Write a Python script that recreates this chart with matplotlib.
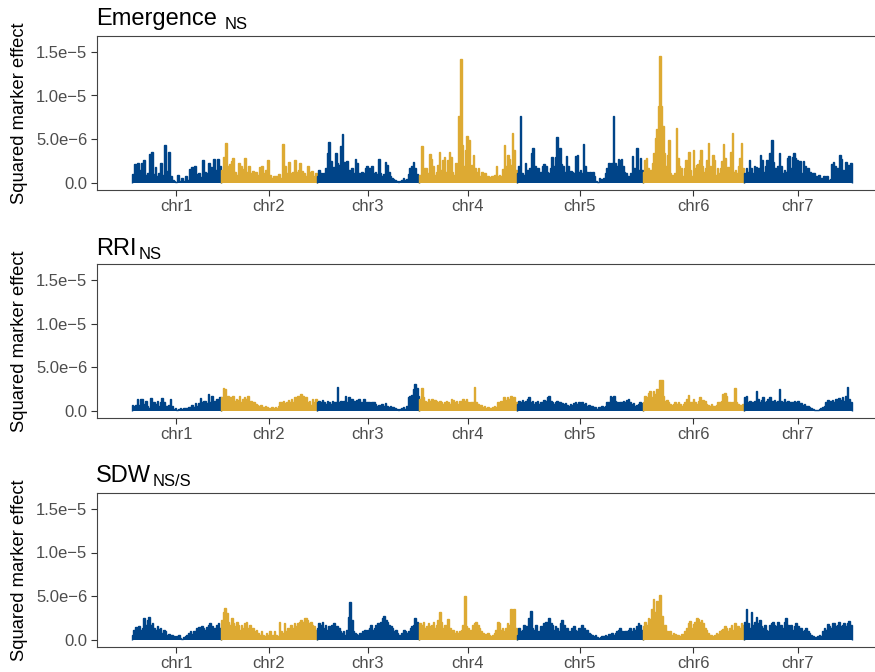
import numpy as np
import matplotlib
matplotlib.use("Agg")
import matplotlib.pyplot as plt

plt.rcParams["font.family"] = ["Liberation Sans", "DejaVu Sans"]

# ---- chromosome layout -------------------------------------------------
chromosomes = ["chr1", "chr2", "chr3", "chr4", "chr5", "chr6", "chr7"]
chrom_span = [89.3, 95.7, 102.6, 97.4, 126.0, 101.3, 107.7]
chrom_colors = ["#004488", "#DDAA33", "#004488", "#DDAA33",
                "#004488", "#DDAA33", "#004488"]

# ---- squared marker effects (units of 1e-6), ordered along each chromosome
emergence_chr1 = [1.0, 2.2, 1.2, 2.3, 1.5, 2.3, 2.6, 0.9, 1.1, 3.3, 3.5, 1.0, 1.8, 0.8, 1.2, 2.3,
                  0.9, 4.3, 1.4, 3.6, 0.8, 0.3, 0.2, 0.1, 0.9, 0.2, 0.6, 0.2, 0.8, 0.3, 1.6, 1.8,
                  1.2, 1.9, 1.0, 1.1, 0.7, 2.6, 1.3, 1.1, 2.3, 1.8, 1.6, 2.8, 1.5, 2.7, 2.0]
emergence_chr2 = [1.5, 3.0, 4.6, 1.9, 2.2, 2.5, 2.9, 1.3, 0.9, 2.3, 1.9, 1.6, 2.9, 1.3, 1.9, 1.1,
                  1.4, 0.9, 1.3, 0.9, 1.8, 2.0, 1.1, 1.5, 2.6, 0.9, 0.6, 0.8, 0.8, 0.2, 1.0, 0.6,
                  4.5, 1.9, 1.2, 2.4, 1.1, 1.3, 2.6, 1.3, 1.5, 2.3, 1.4, 1.1, 0.8, 1.9, 1.3, 1.4,
                  0.8, 1.1]
emergence_chr3 = [0.8, 1.5, 1.2, 1.0, 1.1, 1.7, 3.4, 4.7, 2.5, 1.3, 1.8, 3.4, 2.3, 2.1, 4.2, 5.6,
                  2.4, 1.5, 2.5, 1.5, 1.3, 1.7, 1.1, 2.8, 2.3, 1.1, 0.8, 1.3, 1.2, 1.7, 2.0, 1.7,
                  1.5, 2.0, 1.1, 1.3, 1.0, 2.8, 1.1, 0.8, 1.0, 2.4, 2.1, 1.3, 0.8, 0.6, 0.5, 0.3,
                  0.2, 0.1, 0.2, 0.3, 0.6, 0.3, 0.5, 1.0, 1.7, 2.0, 2.4, 1.7, 1.0, 0.8]
emergence_chr4 = [0.9, 4.2, 1.3, 1.7, 1.7, 1.1, 3.3, 2.7, 1.9, 0.9, 1.3, 2.1, 3.5, 1.5, 2.6, 3.0,
                  1.3, 2.6, 3.5, 3.0, 1.3, 0.9, 2.3, 1.3, 7.7, 14.2, 4.4, 2.0, 3.8, 5.4, 4.9, 1.9,
                  2.1, 3.2, 1.7, 1.3, 1.7, 0.8, 1.3, 0.9, 1.1, 0.4, 0.8, 0.7, 0.8, 0.8, 0.9, 1.9,
                  0.8, 0.9, 0.8, 1.6, 4.4, 1.9, 3.2, 2.8, 2.1, 5.7, 3.8, 1.5]
emergence_chr5 = [1.2, 2.0, 7.7, 1.1, 0.9, 2.3, 1.5, 1.1, 1.7, 3.4, 4.0, 1.9, 1.3, 1.7, 1.0, 1.3,
                  1.9, 2.2, 1.9, 1.3, 1.2, 1.7, 3.0, 1.9, 3.0, 5.3, 2.5, 4.0, 2.2, 1.9, 1.3, 3.1,
                  1.9, 0.9, 1.4, 1.3, 1.1, 3.1, 3.2, 1.3, 1.5, 1.1, 4.5, 1.9, 1.3, 1.1, 1.3, 0.9,
                  1.3, 0.8, 0.2, 0.1, 0.6, 0.5, 0.4, 0.6, 1.2, 1.7, 2.3, 1.7, 2.3, 7.7, 2.3, 1.9,
                  2.7, 2.6, 2.7, 1.9, 1.3, 1.1, 0.8, 0.6, 1.1, 3.1, 1.7, 1.3, 4.0, 1.5, 2.85, 1.5]
emergence_chr6 = [1.3, 2.6, 2.85, 1.7, 1.1, 1.5, 2.3, 3.4, 5.2, 6.2, 8.8, 14.5, 8.8, 6.5, 3.4, 1.9,
                  3.2, 4.9, 1.1, 0.95, 0.4, 1.1, 6.3, 2.85, 1.9, 1.7, 0.8, 1.7, 2.6, 1.9, 3.5, 1.5,
                  0.8, 3.8, 1.7, 2.1, 2.2, 2.6, 3.8, 1.9, 1.3, 1.7, 2.6, 4.6, 1.9, 1.3, 3.2, 2.6,
                  0.95, 1.7, 1.2, 1.7, 2.5, 4.5, 2.85, 1.7, 1.8, 1.3, 3.6, 5.7, 1.3, 1.5, 1.2, 1.9,
                  2.85, 4.6, 1.7]
emergence_chr7 = [1.1, 1.7, 1.3, 2.6, 1.7, 1.2, 1.9, 1.8, 1.45, 1.7, 3.25, 2.6, 1.3, 1.9, 2.6, 2.3,
                  3.4, 4.9, 2.4, 1.7, 1.3, 2.0, 3.4, 1.9, 1.1, 1.5, 1.3, 2.85, 3.1, 1.7, 3.0, 3.4,
                  2.85, 2.6, 1.7, 2.5, 1.2, 2.5, 1.9, 1.45, 1.7, 1.3, 0.8, 1.1, 1.2, 0.8, 0.7, 0.95,
                  0.6, 0.4, 0.85, 0.6, 0.85, 0.4, 0.5, 2.2, 2.4, 1.9, 1.3, 1.7, 3.25, 2.7, 1.5, 1.3,
                  2.4, 2.1, 1.5, 2.3]

rri_chr1 = [0.7, 0.6, 0.7, 1.4, 0.7, 1.4, 1.4, 0.8, 1.2, 0.6, 0.4, 1.5, 0.6, 1.0, 0.8, 1.2,
            0.6, 1.0, 1.5, 1.0, 0.6, 0.6, 0.7, 1.4, 0.6, 0.2, 0.3, 0.15, 0.2, 0.3, 0.2, 0.3,
            0.4, 0.4, 0.5, 0.45, 0.7, 0.5, 0.9, 0.6, 0.9, 1.5, 1.0, 1.2, 1.1, 0.9, 1.9, 1.0,
            1.7, 0.8, 1.2, 1.4, 0.8, 1.6]
rri_chr2 = [1.55, 2.6, 2.5, 1.36, 1.74, 1.55, 1.36, 1.67, 1.17, 1.36, 1.28, 1.74, 0.98, 1.36,
            1.55, 1.36, 1.74, 1.06, 1.17, 0.98, 0.98, 0.79, 0.68, 0.6, 0.68, 0.42, 0.42, 0.6,
            0.42, 0.3, 0.23, 0.42, 0.3, 0.42, 0.3, 0.6, 0.98, 0.98, 1.17, 0.9, 1.06, 1.28, 0.98,
            1.36, 1.06, 1.55, 1.36, 1.74, 1.36, 1.93, 1.74, 1.36, 1.55, 1.06, 1.17, 0.68, 1.36,
            1.06, 1.36]
rri_chr3 = [0.98, 1.17, 1.06, 1.28, 0.98, 0.79, 1.17, 0.98, 0.79, 1.17, 0.98, 0.98, 2.7, 0.98,
            1.17, 1.06, 1.17, 1.74, 0.98, 1.55, 1.28, 1.36, 1.17, 0.98, 1.28, 1.36, 0.98, 1.06,
            1.36, 0.79, 1.06, 0.98, 0.79, 0.98, 0.98, 0.79, 0.6, 0.68, 0.6, 0.79, 0.6, 0.9, 0.6,
            0.42, 0.53, 0.42, 0.42, 0.3, 0.23, 0.15, 0.23, 0.3, 0.42, 0.23, 0.6, 1.55, 1.74, 1.8,
            2.5, 3.1, 2.6, 1.74]
rri_chr4 = [1.36, 2.6, 1.55, 1.17, 0.98, 1.36, 1.17, 1.36, 0.98, 1.28, 1.17, 0.98, 1.17, 0.98,
            0.79, 0.98, 1.17, 0.98, 0.79, 1.36, 1.28, 0.98, 1.17, 0.79, 1.17, 0.98, 1.36, 1.17,
            1.36, 0.98, 0.79, 1.06, 0.98, 2.8, 0.98, 0.79, 0.6, 0.68, 0.42, 0.6, 0.3, 0.42, 0.23,
            0.3, 0.42, 0.6, 0.42, 0.98, 0.79, 1.17, 0.98, 1.55, 1.28, 1.55, 1.36, 1.67, 1.28,
            1.55, 0.98]
rri_chr5 = [0.79, 1.17, 0.98, 1.28, 0.98, 1.17, 1.36, 1.55, 0.98, 1.17, 0.79, 0.98, 1.17, 0.79,
            0.98, 1.06, 1.28, 1.17, 1.55, 1.74, 1.17, 0.98, 0.79, 0.98, 1.17, 0.98, 1.06, 0.9,
            0.79, 0.9, 0.68, 0.6, 0.79, 0.68, 0.9, 0.98, 0.79, 0.98, 0.79, 0.98, 0.79, 0.9, 0.6,
            0.68, 0.6, 0.53, 0.42, 0.42, 0.23, 0.42, 0.3, 0.53, 0.42, 0.6, 0.98, 1.06, 1.74, 1.55,
            1.74, 1.17, 0.98, 0.79, 1.06, 0.98, 1.17, 0.98, 1.3, 1.36, 0.98, 0.79, 0.9, 0.6, 0.68,
            0.79, 0.98, 0.9]
rri_chr6 = [0.98, 1.74, 1.55, 2.1, 2.3, 1.55, 2.3, 1.9, 2.5, 1.36, 3.5, 3.6, 1.74, 1.17, 1.28,
            0.98, 0.79, 0.68, 0.79, 0.98, 0.79, 0.98, 0.79, 0.6, 0.79, 0.98, 1.36, 1.8, 0.98, 1.06,
            1.36, 0.98, 0.79, 1.17, 1.55, 0.98, 1.28, 1.17, 0.79, 0.68, 0.6, 0.79, 0.53, 0.6, 0.68,
            0.98, 1.06, 1.17, 1.9, 2.1, 1.74, 0.98, 1.06, 0.68, 0.98, 2.6, 0.98, 0.79, 0.68, 0.6,
            0.79]
rri_chr7 = [1.55, 1.74, 0.98, 1.17, 1.06, 0.98, 1.17, 2.3, 1.36, 0.98, 1.28, 1.55, 0.98, 1.17,
            1.36, 1.55, 0.98, 1.17, 1.28, 0.98, 1.17, 2.5, 1.17, 0.98, 1.36, 0.98, 1.17, 0.9, 1.06,
            0.98, 1.17, 0.98, 1.17, 0.79, 0.9, 0.68, 0.79, 0.6, 0.53, 0.42, 0.3, 0.23, 0.15, 0.15,
            0.15, 0.23, 0.3, 0.42, 0.6, 0.98, 1.28, 0.98, 1.17, 1.28, 0.98, 1.36, 1.06, 1.44, 1.28,
            1.55, 1.17, 1.74, 2.7, 1.36, 0.98]

sdw_chr1 = [0.6, 1.17, 1.44, 0.98, 1.55, 1.17, 1.36, 2.49, 1.74, 2.3, 2.64, 1.74, 1.93, 1.36,
            1.17, 1.55, 1.29, 1.36, 0.79, 1.17, 0.98, 0.6, 0.68, 0.42, 0.53, 0.42, 0.3, 0.42, 0.6,
            0.23, 0.15, 0.3, 0.42, 0.6, 0.79, 0.98, 0.68, 1.06, 0.98, 1.36, 1.44, 1.17, 1.55, 1.36,
            1.17, 1.44, 1.74, 1.93, 1.55, 1.17, 1.36, 1.74, 1.93, 1.36]
sdw_chr2 = [2.3, 3.25, 3.7, 3.06, 2.1, 1.74, 2.49, 1.93, 1.55, 2.1, 1.74, 1.17, 1.74, 1.36, 1.93,
            2.1, 1.36, 1.74, 1.17, 1.36, 0.98, 1.17, 0.79, 0.6, 0.98, 0.6, 0.42, 0.79, 0.6, 0.98,
            0.42, 0.6, 0.98, 0.6, 0.42, 2.1, 0.98, 0.79, 1.93, 0.98, 1.36, 1.17, 1.74, 1.36, 1.93,
            1.55, 1.93, 2.1, 2.3, 2.1, 2.49, 2.57, 2.3, 1.93, 2.1, 1.74, 1.55, 1.17]
sdw_chr3 = [1.36, 1.93, 1.74, 2.1, 1.36, 1.74, 1.17, 1.55, 0.98, 1.74, 1.93, 1.17, 1.55, 1.36,
            0.98, 0.79, 0.98, 0.6, 1.17, 2.64, 4.4, 2.3, 0.98, 0.79, 0.68, 0.6, 0.79, 0.68, 0.98,
            1.17, 0.98, 1.17, 1.36, 1.74, 1.17, 1.36, 1.74, 1.93, 1.55, 2.1, 2.5, 2.8, 2.3, 2.1,
            1.74, 1.55, 1.36, 0.98, 1.17, 0.79, 0.6, 0.42, 0.79, 1.17, 0.98, 0.79, 0.98, 1.36,
            1.55, 1.74, 2.5, 2.1, 1.74]
sdw_chr4 = [1.93, 1.74, 2.1, 1.36, 1.55, 1.93, 1.55, 1.74, 2.1, 1.36, 1.74, 2.3, 3.25, 2.1, 1.36,
            1.74, 1.17, 2.4, 1.36, 0.98, 1.17, 0.79, 0.98, 0.79, 0.98, 1.17, 1.74, 5.03, 1.55, 1.36,
            0.98, 1.17, 1.66, 1.93, 2.1, 1.74, 1.36, 0.98, 0.79, 0.6, 0.68, 0.79, 0.6, 0.42, 0.6,
            0.79, 1.17, 2.1, 1.93, 1.17, 1.36, 0.98, 1.36, 1.93, 1.74, 3.6, 2.1, 3.5, 1.36]
sdw_chr5 = [0.6, 1.36, 0.98, 1.17, 1.74, 1.55, 0.98, 2.57, 3.36, 1.36, 1.17, 1.74, 0.79, 0.98,
            1.55, 1.36, 1.93, 2.1, 1.74, 2.5, 1.93, 1.74, 1.17, 1.55, 1.36, 0.98, 1.93, 2.3, 1.74,
            1.17, 1.36, 0.98, 0.79, 1.36, 1.55, 1.17, 0.98, 1.36, 0.79, 1.66, 1.36, 0.98, 1.17,
            0.79, 0.68, 0.6, 0.42, 0.6, 0.3, 0.23, 0.3, 0.42, 0.42, 0.6, 0.42, 0.68, 0.6, 0.79,
            0.6, 0.79, 0.98, 1.17, 1.36, 0.98, 0.79, 0.98, 0.98, 1.17, 1.36, 0.98, 1.36, 1.17,
            1.55, 1.93, 1.74, 1.17]
sdw_chr6 = [1.55, 2.1, 1.74, 2.49, 2.4, 3.5, 4.7, 3.25, 4.5, 2.3, 5.15, 2.8, 1.17, 1.74, 0.98,
            0.79, 1.06, 0.6, 0.79, 0.68, 0.53, 0.6, 0.42, 0.68, 0.53, 0.98, 1.36, 1.93, 2.2, 1.36,
            1.82, 2.1, 2.57, 2.4, 2.1, 2.3, 1.93, 1.36, 1.17, 0.79, 0.6, 0.53, 0.42, 0.6, 0.79,
            0.68, 0.98, 1.17, 1.29, 1.55, 1.36, 0.98, 1.36, 1.74, 1.17, 1.93, 1.17, 1.55, 1.36,
            1.93, 1.74]
sdw_chr7 = [2.1, 3.5, 1.93, 1.36, 3.25, 1.74, 2.1, 2.64, 1.93, 2.3, 1.55, 1.36, 1.74, 1.17, 0.98,
            1.74, 1.93, 2.1, 1.74, 1.55, 2.1, 1.55, 1.74, 1.36, 2.1, 2.57, 1.66, 1.36, 1.74, 1.17,
            1.55, 1.93, 1.55, 1.17, 1.36, 0.98, 1.17, 1.36, 0.98, 0.79, 0.6, 0.42, 0.23, 0.3, 0.42,
            0.6, 0.42, 0.98, 1.36, 1.17, 1.82, 1.55, 1.36, 2.0, 1.93, 1.55, 1.74, 2.1, 1.55, 1.74,
            1.93, 1.55, 1.93, 2.2, 1.74]

trait_names = ["Emergence", "RRI", "SDW"]
trait_subscripts = ["NS", "NS", "NS/S"]
emergence = [emergence_chr1, emergence_chr2, emergence_chr3, emergence_chr4,
             emergence_chr5, emergence_chr6, emergence_chr7]
rri = [rri_chr1, rri_chr2, rri_chr3, rri_chr4, rri_chr5, rri_chr6, rri_chr7]
sdw = [sdw_chr1, sdw_chr2, sdw_chr3, sdw_chr4, sdw_chr5, sdw_chr6, sdw_chr7]
trait_values = [emergence, rri, sdw]

y_ticks = [0.0, 5e-6, 1e-5, 1.5e-5]
y_tick_labels = ["0.0", "5.0e\u22126", "1.0e\u22125", "1.5e\u22125"]
value_unit = 1e-6

# ---- figure -------------------------------------------------------------
W, H = 875, 672
fig = plt.figure(figsize=(W / 100, H / 100), dpi=100)

panel_tops = [36, 264, 493]          # pixel rows of the panel borders
panel_h = 154
panel_left, panel_w = 96.7, 790
title_baselines = [25, 255, 482]
sub_gaps = [8, 2, 1.5]

offsets = np.concatenate([[0], np.cumsum(chrom_span)[:-1]])
centers = offsets + np.array(chrom_span) / 2
border_col = "#444444"

renderer = fig.canvas.get_renderer()

for p, (name, sub, series) in enumerate(zip(trait_names, trait_subscripts, trait_values)):
    top = panel_tops[p]
    ax = fig.add_axes([panel_left / W, 1 - (top + panel_h) / H, panel_w / W, panel_h / H])
    for c in range(len(chromosomes)):
        vals = np.asarray(series[c]) * value_unit
        edges = offsets[c] + np.linspace(0, chrom_span[c], len(vals) + 1)
        ax.stairs(vals, edges, baseline=0, fill=True, color=chrom_colors[c], lw=0)
        ax.stairs(vals, edges, baseline=0, color=chrom_colors[c], lw=1.0)
    ax.set_xlim(-35, -35 + panel_w)
    ax.set_ylim(-0.8e-6, 16.8e-6)
    ax.set_xticks(centers)
    ax.set_xticklabels(chromosomes)
    ax.set_yticks(y_ticks)
    ax.set_yticklabels(y_tick_labels)
    ax.tick_params(axis="both", length=4.3, width=0.8, color="#333333",
                   labelcolor="#4D4D4D", labelsize=12, pad=2.5)
    for s in ax.spines.values():
        s.set_color(border_col)
        s.set_linewidth(0.8)

    fig.text(20 / W, 1 - (top + panel_h / 2) / H, "Squared marker effect",
             rotation=90, ha="center", va="center", fontsize=13.2)

    t = fig.text(95.8 / W, 1 - title_baselines[p] / H, name, fontsize=17,
                 ha="left", va="baseline")
    bb = t.get_window_extent(renderer)
    fig.text((bb.x1 + sub_gaps[p]) / W, 1 - (title_baselines[p] + 4) / H, sub,
             fontsize=12, ha="left", va="baseline")

fig.savefig("out.png", dpi=100)
